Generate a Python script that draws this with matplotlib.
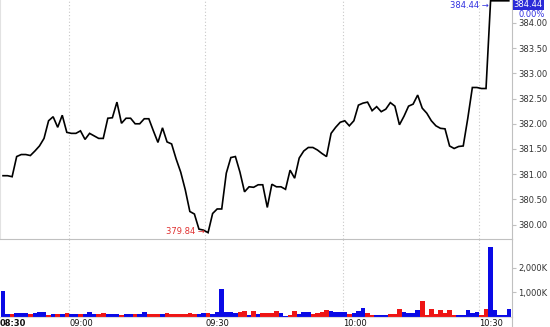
import numpy as np
import matplotlib
matplotlib.use("Agg")
import matplotlib.pyplot as plt
from matplotlib.lines import Line2D

# ── Data (1-minute bars) ─────────────────────────────────────────────────────
price = [
    380.97, 380.97, 380.95, 381.35, 381.39, 381.39, 381.37, 381.46, 381.56, 381.71,
    382.06, 382.14, 381.93, 382.17, 381.83, 381.81, 381.81, 381.86, 381.69, 381.81,
    381.76, 381.71, 381.71, 382.11, 382.12, 382.43, 382.01, 382.11, 382.11, 382.00,
    382.00, 382.10, 382.10, 381.86, 381.63, 381.92, 381.64, 381.60, 381.30, 381.04,
    380.69, 380.26, 380.21, 379.91, 379.89, 379.84, 380.22, 380.31, 380.31, 381.02,
    381.33, 381.35, 381.04, 380.65, 380.75, 380.74, 380.79, 380.79, 380.34, 380.80,
    380.75, 380.75, 380.70, 381.08, 380.92, 381.32, 381.46, 381.53, 381.53, 381.48,
    381.41, 381.35, 381.81, 381.93, 382.03, 382.06, 381.96, 382.06, 382.37, 382.41,
    382.43, 382.26, 382.34, 382.24, 382.29, 382.42, 382.35, 381.98, 382.15, 382.35,
    382.39, 382.57, 382.31, 382.21, 382.06, 381.96, 381.91, 381.90, 381.56, 381.51,
    381.55, 381.56, 382.11, 382.72, 382.72, 382.70, 382.70, 384.44, 384.44, 384.44,
    384.44, 384.44,
]

# volume in thousands
volume_k = [
    1035, 90, 118, 132, 160, 132, 90, 132, 174, 188,
    63, 90, 90, 90, 146, 118, 90, 90, 90, 188,
    90, 118, 132, 118, 90, 90, 63, 90, 118, 90,
    90, 174, 90, 90, 90, 118, 132, 104, 90, 90,
    118, 132, 104, 104, 132, 132, 104, 174, 1134, 188,
    174, 132, 188, 229, 76, 229, 118, 160, 160, 132,
    243, 150, 40, 80, 235, 115, 200, 200, 118, 160,
    190, 250, 240, 180, 165, 200, 117, 160, 240, 330,
    150, 60, 55, 55, 55, 120, 120, 290, 200, 130,
    130, 275, 640, 80, 290, 110, 270, 150, 250, 60,
    55, 55, 285, 130, 200, 80, 300, 2850, 280, 55,
    55, 300,
]

# 1 = up (blue), 0 = down (red)
vol_up = [
    1, 1, 0, 1, 1, 1, 0, 1, 1, 1,
    0, 1, 0, 1, 0, 1, 1, 0, 1, 1,
    1, 0, 0, 1, 1, 1, 0, 1, 1, 0,
    1, 1, 0, 0, 0, 1, 0, 0, 0, 0,
    0, 0, 0, 1, 1, 0, 1, 1, 1, 1,
    1, 1, 0, 0, 1, 0, 1, 0, 0, 0,
    0, 1, 1, 0, 0, 1, 1, 1, 0, 0,
    0, 0, 1, 1, 1, 1, 0, 1, 1, 1,
    0, 0, 1, 1, 1, 0, 0, 0, 1, 1,
    1, 1, 0, 0, 0, 0, 0, 0, 0, 0,
    1, 1, 1, 1, 1, 0, 0, 1, 1, 1,
    1, 1,
]

time_labels = ["08:30", "09:00", "09:30", "10:00", "10:30"]
time_pos = [-0.66, 14.5, 44.4, 74.6, 104.5]   # in bar index units
price_ticks = [380.0, 380.5, 381.0, 381.5, 382.0, 382.5, 383.0, 383.5, 384.0]
vol_ticks = [1000, 2000]
vol_tick_labels = ["1,000K", "2,000K"]

LOW_VAL = 379.84
LAST_VAL = 384.44
CHANGE_TXT = "0.00%"

# ── Styling ──────────────────────────────────────────────────────────────────
BLUE = "#0a0ae6"
RED = "#ee1515"
GRID = "#c8c8c8"
AXIS = "#c0c0c0"
TXT = "#333333"
FS = 6

x = np.arange(len(price))
xlim = (-0.66, 111.7)

fig = plt.figure(figsize=(5.5, 3.27), dpi=100)
ax_p = fig.add_axes([0.0, 0.2691, 0.9309, 0.7309])
ax_v = fig.add_axes([0.0, 0.0321, 0.9309, 0.2370])

# ── Price panel ──────────────────────────────────────────────────────────────
ax_p.plot(x, price, color="black", lw=1.2, solid_joinstyle="miter", clip_on=False, zorder=3)
ax_p.set_xlim(*xlim)
ax_p.set_ylim(379.714, 384.456)
ax_p.yaxis.tick_right()
ax_p.set_yticks(price_ticks)
ax_p.set_yticklabels([f"{t:.2f}" for t in price_ticks])
ax_p.tick_params(axis="y", labelsize=FS, labelcolor=TXT, color=AXIS,
                 length=3, width=0.8, pad=1.5, direction="out")
ax_p.set_xticks([])
for s in ["top", "bottom"]:
    ax_p.spines[s].set_visible(False)
ax_p.spines["right"].set_color(AXIS)
ax_p.spines["left"].set_color("#e2e2e2")
for tp in time_pos[1:]:
    ax_p.axvline(tp, color=GRID, lw=0.8, ls=(0, (1, 2)), zorder=1)

# low marker
low_i = int(np.argmin(price))
ax_p.annotate(f"{LOW_VAL:.2f} \u2192", xy=(low_i, LOW_VAL), xytext=(-2, 0.5),
              textcoords="offset points", ha="right", va="center",
              fontsize=FS, color="#e03030")
# last-price marker
first_last = price.index(LAST_VAL)
ax_p.annotate(f"{LAST_VAL:.2f} \u2192", xy=(first_last, LAST_VAL), xytext=(-1, -3.2),
              textcoords="offset points", ha="right", va="center",
              fontsize=FS, color="#3030e0", annotation_clip=False)
ax_p.text(1.003, 384.375, f"{LAST_VAL:.2f}", transform=ax_p.get_yaxis_transform(),
          ha="left", va="center", fontsize=FS, color="white", clip_on=False,
          bbox=dict(boxstyle="square,pad=0.12", fc="#2a2ad8", ec="none"))
ax_p.text(1.012, 384.165, CHANGE_TXT, transform=ax_p.get_yaxis_transform(),
          ha="left", va="center", fontsize=FS, color="#3030e0", clip_on=False)

# ── Volume panel ─────────────────────────────────────────────────────────────
colors = [BLUE if u else RED for u in vol_up]
ax_v.bar(x, volume_k, width=1.0, color=colors, linewidth=0, zorder=2)
ax_v.set_xlim(*xlim)
ax_v.set_ylim(0, 3190)
ax_v.yaxis.tick_right()
ax_v.set_yticks(vol_ticks)
ax_v.set_yticklabels(vol_tick_labels)
ax_v.tick_params(axis="y", labelsize=FS, labelcolor=TXT, color=AXIS,
                 length=3, width=0.8, pad=1.5, direction="out")
ax_v.set_xticks(time_pos)
ax_v.set_xticklabels(time_labels)
ax_v.tick_params(axis="x", length=0, pad=1.5, labelsize=FS, labelcolor="#111111")
for lbl in ax_v.get_xticklabels():
    lbl.set_horizontalalignment("left")
ax_v.get_xticklabels()[0].set_fontweight("bold")
ax_v.spines["top"].set_color(AXIS)
ax_v.spines["right"].set_color(AXIS)
ax_v.spines["left"].set_visible(False)
ax_v.spines["bottom"].set_color("#dddddd")
for tp in time_pos[1:]:
    ax_v.axvline(tp, color=GRID, lw=0.8, ls=(0, (1, 2)), zorder=1)

# right axis line continues to the bottom edge
fig.add_artist(Line2D([0.9309, 0.9309], [0.0, 0.0321], color=AXIS, lw=0.8))

fig.savefig("out.png", dpi=100)
